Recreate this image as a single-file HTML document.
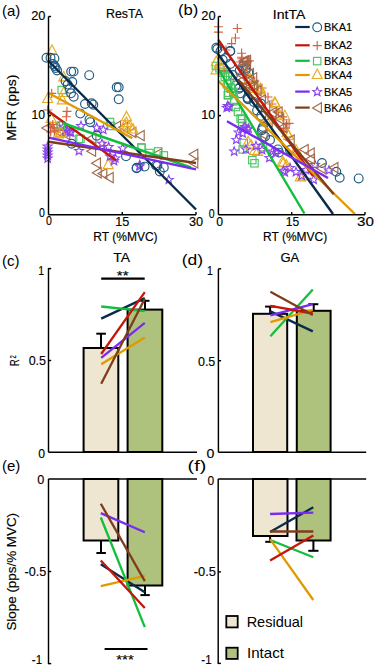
<!DOCTYPE html>
<html><head><meta charset="utf-8"><style>
html,body{margin:0;padding:0;background:#fff;}
body{width:375px;height:670px;overflow:hidden;}
svg{display:block;}
</style></head><body>
<svg width="375" height="670" viewBox="0 0 375 670" font-family="Liberation Sans, sans-serif">
<rect width="375" height="670" fill="#fff"/>
<g>
<path d="M41.8 128.1L50.6 123.0L50.6 133.2Z" stroke="#A2684A" stroke-width="1.15" fill="none"/>
<path d="M54.6 132.4L63.4 127.3L63.4 137.5Z" stroke="#A2684A" stroke-width="1.15" fill="none"/>
<path d="M61.0 134.5L69.8 129.4L69.8 139.6Z" stroke="#A2684A" stroke-width="1.15" fill="none"/>
<path d="M50.4 127.0L59.2 121.9L59.2 132.1Z" stroke="#A2684A" stroke-width="1.15" fill="none"/>
<path d="M135.4 135.6L144.2 130.5L144.2 140.7Z" stroke="#A2684A" stroke-width="1.15" fill="none"/>
<path d="M111.8 126.0L120.6 120.9L120.6 131.1Z" stroke="#A2684A" stroke-width="1.15" fill="none"/>
<path d="M118.7 127.3L127.5 122.2L127.5 132.4Z" stroke="#A2684A" stroke-width="1.15" fill="none"/>
<path d="M127.1 132.4L135.9 127.3L135.9 137.5Z" stroke="#A2684A" stroke-width="1.15" fill="none"/>
<path d="M86.8 151.2L95.6 146.1L95.6 156.3Z" stroke="#A2684A" stroke-width="1.15" fill="none"/>
<path d="M91.6 163.2L100.4 158.1L100.4 168.3Z" stroke="#A2684A" stroke-width="1.15" fill="none"/>
<path d="M92.4 172.8L101.2 167.7L101.2 177.9Z" stroke="#A2684A" stroke-width="1.15" fill="none"/>
<path d="M98.0 173.6L106.8 168.5L106.8 178.7Z" stroke="#A2684A" stroke-width="1.15" fill="none"/>
<path d="M104.4 177.6L113.2 172.5L113.2 182.7Z" stroke="#A2684A" stroke-width="1.15" fill="none"/>
<path d="M189.0 154.3L197.8 149.2L197.8 159.4Z" stroke="#A2684A" stroke-width="1.15" fill="none"/>
<path d="M189.0 163.0L197.8 157.9L197.8 168.1Z" stroke="#A2684A" stroke-width="1.15" fill="none"/>
<path d="M152.8 153.8L161.6 148.7L161.6 158.9Z" stroke="#A2684A" stroke-width="1.15" fill="none"/>
<path d="M87.1 138.3L95.9 133.2L95.9 143.4Z" stroke="#A2684A" stroke-width="1.15" fill="none"/>
<rect x="58.0" y="86.3" width="7.4" height="7.4" stroke="#4CC465" stroke-width="1.15" fill="none"/>
<rect x="76.8" y="135.1" width="7.4" height="7.4" stroke="#4CC465" stroke-width="1.15" fill="none"/>
<rect x="106.3" y="118.3" width="7.4" height="7.4" stroke="#4CC465" stroke-width="1.15" fill="none"/>
<rect x="107.3" y="122.3" width="7.4" height="7.4" stroke="#4CC465" stroke-width="1.15" fill="none"/>
<rect x="137.7" y="143.7" width="7.4" height="7.4" stroke="#4CC465" stroke-width="1.15" fill="none"/>
<rect x="145.7" y="149.3" width="7.4" height="7.4" stroke="#4CC465" stroke-width="1.15" fill="none"/>
<rect x="154.5" y="147.7" width="7.4" height="7.4" stroke="#4CC465" stroke-width="1.15" fill="none"/>
<rect x="160.1" y="151.7" width="7.4" height="7.4" stroke="#4CC465" stroke-width="1.15" fill="none"/>
<rect x="75.3" y="135.3" width="7.4" height="7.4" stroke="#4CC465" stroke-width="1.15" fill="none"/>
<rect x="137.8" y="144.2" width="7.4" height="7.4" stroke="#4CC465" stroke-width="1.15" fill="none"/>
<path d="M47.2 93.3h9M51.7 88.7v9.2" stroke="#D66040" stroke-width="1.15" fill="none"/>
<path d="M62.5 111.3h9M67.0 106.7v9.2" stroke="#D66040" stroke-width="1.15" fill="none"/>
<path d="M61.8 116.7h9M66.3 112.1v9.2" stroke="#D66040" stroke-width="1.15" fill="none"/>
<path d="M46.2 126.0h9M50.7 121.4v9.2" stroke="#D66040" stroke-width="1.15" fill="none"/>
<path d="M52.6 128.1h9M57.1 123.5v9.2" stroke="#D66040" stroke-width="1.15" fill="none"/>
<path d="M59.0 130.3h9M63.5 125.7v9.2" stroke="#D66040" stroke-width="1.15" fill="none"/>
<path d="M48.5 127.7h9M53.0 123.1v9.2" stroke="#D66040" stroke-width="1.15" fill="none"/>
<path d="M99.5 145.2h9M104.0 140.6v9.2" stroke="#D66040" stroke-width="1.15" fill="none"/>
<path d="M43.2 110.0h9M47.7 105.4v9.2" stroke="#D66040" stroke-width="1.15" fill="none"/>
<path d="M52.0 44.9L57.0 54.3L47.0 54.3Z" stroke="#E8AC25" stroke-width="1.15" fill="none" stroke-linejoin="miter"/>
<path d="M63.7 71.4L68.7 80.8L58.7 80.8Z" stroke="#E8AC25" stroke-width="1.15" fill="none" stroke-linejoin="miter"/>
<path d="M47.7 93.1L52.7 102.5L42.7 102.5Z" stroke="#E8AC25" stroke-width="1.15" fill="none" stroke-linejoin="miter"/>
<path d="M63.7 87.1L68.7 96.5L58.7 96.5Z" stroke="#E8AC25" stroke-width="1.15" fill="none" stroke-linejoin="miter"/>
<path d="M62.3 94.4L67.3 103.8L57.3 103.8Z" stroke="#E8AC25" stroke-width="1.15" fill="none" stroke-linejoin="miter"/>
<path d="M126.5 111.3L131.5 120.7L121.5 120.7Z" stroke="#E8AC25" stroke-width="1.15" fill="none" stroke-linejoin="miter"/>
<path d="M126.5 117.2L131.5 126.6L121.5 126.6Z" stroke="#E8AC25" stroke-width="1.15" fill="none" stroke-linejoin="miter"/>
<path d="M132.9 123.6L137.9 133.0L127.9 133.0Z" stroke="#E8AC25" stroke-width="1.15" fill="none" stroke-linejoin="miter"/>
<path d="M126.0 122.5L131.0 131.9L121.0 131.9Z" stroke="#E8AC25" stroke-width="1.15" fill="none" stroke-linejoin="miter"/>
<path d="M124.7 119.7L129.7 129.1L119.7 129.1Z" stroke="#E8AC25" stroke-width="1.15" fill="none" stroke-linejoin="miter"/>
<path d="M130.0 120.4L135.0 129.8L125.0 129.8Z" stroke="#E8AC25" stroke-width="1.15" fill="none" stroke-linejoin="miter"/>
<path d="M60.3 127.4L65.3 136.8L55.3 136.8Z" stroke="#E8AC25" stroke-width="1.15" fill="none" stroke-linejoin="miter"/>
<path d="M108.2 159.2L113.2 168.6L103.2 168.6Z" stroke="#E8AC25" stroke-width="1.15" fill="none" stroke-linejoin="miter"/>
<polygon points="47.7,141.9 48.9,144.9 52.1,145.1 49.6,147.1 50.4,150.2 47.7,148.5 45.0,150.2 45.8,147.1 43.3,145.1 46.5,144.9" stroke="#8A45EE" stroke-width="1.15" fill="none"/>
<polygon points="47.7,144.9 48.9,147.9 52.1,148.1 49.6,150.1 50.4,153.2 47.7,151.5 45.0,153.2 45.8,150.1 43.3,148.1 46.5,147.9" stroke="#8A45EE" stroke-width="1.15" fill="none"/>
<polygon points="47.7,147.9 48.9,150.9 52.1,151.1 49.6,153.1 50.4,156.2 47.7,154.5 45.0,156.2 45.8,153.1 43.3,151.1 46.5,150.9" stroke="#8A45EE" stroke-width="1.15" fill="none"/>
<polygon points="47.7,150.9 48.9,153.9 52.1,154.1 49.6,156.1 50.4,159.2 47.7,157.5 45.0,159.2 45.8,156.1 43.3,154.1 46.5,153.9" stroke="#8A45EE" stroke-width="1.15" fill="none"/>
<polygon points="47.7,153.9 48.9,156.9 52.1,157.1 49.6,159.1 50.4,162.2 47.7,160.5 45.0,162.2 45.8,159.1 43.3,157.1 46.5,156.9" stroke="#8A45EE" stroke-width="1.15" fill="none"/>
<polygon points="65.6,125.7 66.8,128.7 70.0,128.9 67.5,130.9 68.3,134.0 65.6,132.3 62.9,134.0 63.7,130.9 61.2,128.9 64.4,128.7" stroke="#8A45EE" stroke-width="1.15" fill="none"/>
<polygon points="69.9,127.8 71.1,130.8 74.3,131.0 71.8,133.0 72.6,136.1 69.9,134.4 67.2,136.1 68.0,133.0 65.5,131.0 68.7,130.8" stroke="#8A45EE" stroke-width="1.15" fill="none"/>
<polygon points="67.7,127.1 68.9,130.1 72.1,130.3 69.6,132.3 70.4,135.4 67.7,133.7 65.0,135.4 65.8,132.3 63.3,130.3 66.5,130.1" stroke="#8A45EE" stroke-width="1.15" fill="none"/>
<polygon points="71.0,127.7 72.2,130.7 75.4,130.9 72.9,132.9 73.7,136.0 71.0,134.3 68.3,136.0 69.1,132.9 66.6,130.9 69.8,130.7" stroke="#8A45EE" stroke-width="1.15" fill="none"/>
<polygon points="79.0,146.4 80.2,149.4 83.4,149.6 80.9,151.6 81.7,154.7 79.0,153.0 76.3,154.7 77.1,151.6 74.6,149.6 77.8,149.4" stroke="#8A45EE" stroke-width="1.15" fill="none"/>
<polygon points="96.7,123.1 97.9,126.1 101.1,126.3 98.6,128.3 99.4,131.4 96.7,129.7 94.0,131.4 94.8,128.3 92.3,126.3 95.5,126.1" stroke="#8A45EE" stroke-width="1.15" fill="none"/>
<polygon points="103.3,125.1 104.5,128.1 107.7,128.3 105.2,130.3 106.0,133.4 103.3,131.7 100.6,133.4 101.4,130.3 98.9,128.3 102.1,128.1" stroke="#8A45EE" stroke-width="1.15" fill="none"/>
<polygon points="102.0,139.1 103.2,142.1 106.4,142.3 103.9,144.3 104.7,147.4 102.0,145.7 99.3,147.4 100.1,144.3 97.6,142.3 100.8,142.1" stroke="#8A45EE" stroke-width="1.15" fill="none"/>
<polygon points="108.7,142.4 109.9,145.4 113.1,145.6 110.6,147.6 111.4,150.7 108.7,149.0 106.0,150.7 106.8,147.6 104.3,145.6 107.5,145.4" stroke="#8A45EE" stroke-width="1.15" fill="none"/>
<polygon points="122.7,143.7 123.9,146.7 127.1,146.9 124.6,148.9 125.4,152.0 122.7,150.3 120.0,152.0 120.8,148.9 118.3,146.9 121.5,146.7" stroke="#8A45EE" stroke-width="1.15" fill="none"/>
<polygon points="110.0,151.7 111.2,154.7 114.4,154.9 111.9,156.9 112.7,160.0 110.0,158.3 107.3,160.0 108.1,156.9 105.6,154.9 108.8,154.7" stroke="#8A45EE" stroke-width="1.15" fill="none"/>
<polygon points="115.3,153.7 116.5,156.7 119.7,156.9 117.2,158.9 118.0,162.0 115.3,160.3 112.6,162.0 113.4,158.9 110.9,156.9 114.1,156.7" stroke="#8A45EE" stroke-width="1.15" fill="none"/>
<polygon points="114.0,156.4 115.2,159.4 118.4,159.6 115.9,161.6 116.7,164.7 114.0,163.0 111.3,164.7 112.1,161.6 109.6,159.6 112.8,159.4" stroke="#8A45EE" stroke-width="1.15" fill="none"/>
<polygon points="81.0,121.4 82.2,124.4 85.4,124.6 82.9,126.6 83.7,129.7 81.0,128.0 78.3,129.7 79.1,126.6 76.6,124.6 79.8,124.4" stroke="#8A45EE" stroke-width="1.15" fill="none"/>
<polygon points="63.7,122.1 64.9,125.1 68.1,125.3 65.6,127.3 66.4,130.4 63.7,128.7 61.0,130.4 61.8,127.3 59.3,125.3 62.5,125.1" stroke="#8A45EE" stroke-width="1.15" fill="none"/>
<polygon points="139.8,160.4 141.0,163.4 144.2,163.6 141.7,165.6 142.5,168.7 139.8,167.0 137.1,168.7 137.9,165.6 135.4,163.6 138.6,163.4" stroke="#8A45EE" stroke-width="1.15" fill="none"/>
<polygon points="168.8,175.2 170.0,178.2 173.2,178.4 170.7,180.4 171.5,183.5 168.8,181.8 166.1,183.5 166.9,180.4 164.4,178.4 167.6,178.2" stroke="#8A45EE" stroke-width="1.15" fill="none"/>
<polygon points="139.6,161.8 140.8,164.8 144.0,165.0 141.5,167.0 142.3,170.1 139.6,168.4 136.9,170.1 137.7,167.0 135.2,165.0 138.4,164.8" stroke="#8A45EE" stroke-width="1.15" fill="none"/>
<circle cx="46.5" cy="57.7" r="4.4" stroke="#1F5A80" stroke-width="1.15" fill="none"/>
<circle cx="50.5" cy="57.7" r="4.4" stroke="#1F5A80" stroke-width="1.15" fill="none"/>
<circle cx="54.4" cy="58.4" r="4.4" stroke="#1F5A80" stroke-width="1.15" fill="none"/>
<circle cx="52.8" cy="64.1" r="4.4" stroke="#1F5A80" stroke-width="1.15" fill="none"/>
<circle cx="54.6" cy="66.0" r="4.4" stroke="#1F5A80" stroke-width="1.15" fill="none"/>
<circle cx="55.6" cy="68.0" r="4.4" stroke="#1F5A80" stroke-width="1.15" fill="none"/>
<circle cx="57.1" cy="70.5" r="4.4" stroke="#1F5A80" stroke-width="1.15" fill="none"/>
<circle cx="71.2" cy="71.6" r="4.4" stroke="#1F5A80" stroke-width="1.15" fill="none"/>
<circle cx="73.6" cy="71.6" r="4.4" stroke="#1F5A80" stroke-width="1.15" fill="none"/>
<circle cx="89.2" cy="75.2" r="4.4" stroke="#1F5A80" stroke-width="1.15" fill="none"/>
<circle cx="72.3" cy="82.0" r="4.4" stroke="#1F5A80" stroke-width="1.15" fill="none"/>
<circle cx="65.6" cy="81.2" r="4.4" stroke="#1F5A80" stroke-width="1.15" fill="none"/>
<circle cx="67.7" cy="84.6" r="4.4" stroke="#1F5A80" stroke-width="1.15" fill="none"/>
<circle cx="69.9" cy="88.8" r="4.4" stroke="#1F5A80" stroke-width="1.15" fill="none"/>
<circle cx="71.0" cy="93.3" r="4.4" stroke="#1F5A80" stroke-width="1.15" fill="none"/>
<circle cx="73.7" cy="96.7" r="4.4" stroke="#1F5A80" stroke-width="1.15" fill="none"/>
<circle cx="85.0" cy="104.0" r="4.4" stroke="#1F5A80" stroke-width="1.15" fill="none"/>
<circle cx="91.7" cy="103.3" r="4.4" stroke="#1F5A80" stroke-width="1.15" fill="none"/>
<circle cx="93.3" cy="104.7" r="4.4" stroke="#1F5A80" stroke-width="1.15" fill="none"/>
<circle cx="80.3" cy="113.6" r="4.4" stroke="#1F5A80" stroke-width="1.15" fill="none"/>
<circle cx="89.5" cy="119.6" r="4.4" stroke="#1F5A80" stroke-width="1.15" fill="none"/>
<circle cx="90.3" cy="122.2" r="4.4" stroke="#1F5A80" stroke-width="1.15" fill="none"/>
<circle cx="116.7" cy="87.3" r="4.4" stroke="#1F5A80" stroke-width="1.15" fill="none"/>
<circle cx="118.7" cy="87.3" r="4.4" stroke="#1F5A80" stroke-width="1.15" fill="none"/>
<circle cx="118.7" cy="99.3" r="4.4" stroke="#1F5A80" stroke-width="1.15" fill="none"/>
<circle cx="96.7" cy="135.7" r="4.4" stroke="#1F5A80" stroke-width="1.15" fill="none"/>
<circle cx="71.7" cy="143.7" r="4.4" stroke="#1F5A80" stroke-width="1.15" fill="none"/>
<circle cx="126.0" cy="156.3" r="4.4" stroke="#1F5A80" stroke-width="1.15" fill="none"/>
<circle cx="136.7" cy="167.7" r="4.4" stroke="#1F5A80" stroke-width="1.15" fill="none"/>
<circle cx="136.6" cy="168.2" r="4.4" stroke="#1F5A80" stroke-width="1.15" fill="none"/>
<circle cx="144.6" cy="166.6" r="4.4" stroke="#1F5A80" stroke-width="1.15" fill="none"/>
<circle cx="157.4" cy="165.8" r="4.4" stroke="#1F5A80" stroke-width="1.15" fill="none"/>
<circle cx="163.8" cy="167.4" r="4.4" stroke="#1F5A80" stroke-width="1.15" fill="none"/>
<circle cx="159.8" cy="171.4" r="4.4" stroke="#1F5A80" stroke-width="1.15" fill="none"/>
<circle cx="156.0" cy="165.4" r="4.4" stroke="#1F5A80" stroke-width="1.15" fill="none"/>
<path d="M51.2 112.9L56.2 122.3L46.2 122.3Z" stroke="#E8AC25" stroke-width="1.15" fill="none" stroke-linejoin="miter"/>
<path d="M61.3 127.5L66.3 136.9L56.3 136.9Z" stroke="#E8AC25" stroke-width="1.15" fill="none" stroke-linejoin="miter"/>
<path d="M58.1 128.5L63.1 137.9L53.1 137.9Z" stroke="#E8AC25" stroke-width="1.15" fill="none" stroke-linejoin="miter"/>
<path d="M48.3 124.5h9M52.8 119.9v9.2" stroke="#D66040" stroke-width="1.15" fill="none"/>
<path d="M49.9 130.9h9M54.4 126.3v9.2" stroke="#D66040" stroke-width="1.15" fill="none"/>
<path d="M46.2 132.0h9M50.7 127.4v9.2" stroke="#D66040" stroke-width="1.15" fill="none"/>
<rect x="57.1" y="121.9" width="7.4" height="7.4" stroke="#4CC465" stroke-width="1.15" fill="none"/>
</g>
<line x1="48.50" y1="61.00" x2="196.00" y2="209.50" stroke="#0A2A4C" stroke-width="2.4" />
<line x1="48.50" y1="111.30" x2="116.00" y2="160.30" stroke="#C4160A" stroke-width="2.4" />
<line x1="62.50" y1="123.00" x2="191.00" y2="167.50" stroke="#12BE3A" stroke-width="2.4" />
<line x1="48.50" y1="93.00" x2="132.40" y2="138.30" stroke="#E09A00" stroke-width="2.4" />
<line x1="48.50" y1="141.70" x2="196.00" y2="163.00" stroke="#7E3E1C" stroke-width="2.4" />
<line x1="48.50" y1="137.70" x2="196.00" y2="169.40" stroke="#7A2BF0" stroke-width="2.4" />
<line x1="48.50" y1="16.50" x2="48.50" y2="214.70" stroke="#000" stroke-width="1.45" />
<line x1="48.50" y1="214.70" x2="196.00" y2="214.70" stroke="#000" stroke-width="1.45" />
<line x1="48.50" y1="16.50" x2="51.10" y2="16.50" stroke="#000" stroke-width="1.45" />
<line x1="48.50" y1="115.60" x2="51.10" y2="115.60" stroke="#000" stroke-width="1.45" />
<line x1="122.25" y1="214.70" x2="122.25" y2="212.10" stroke="#000" stroke-width="1.45" />
<line x1="196.00" y1="214.70" x2="196.00" y2="212.10" stroke="#000" stroke-width="1.45" />
<g>
<path d="M213.9 26.7h9M218.4 22.1v9.2" stroke="#D66040" stroke-width="1.15" fill="none"/>
<path d="M213.9 32.1h9M218.4 27.5v9.2" stroke="#D66040" stroke-width="1.15" fill="none"/>
<path d="M232.8 28.5h9M237.3 23.9v9.2" stroke="#D66040" stroke-width="1.15" fill="none"/>
<path d="M230.9 38.0h9M235.4 33.4v9.2" stroke="#D66040" stroke-width="1.15" fill="none"/>
<path d="M227.1 43.6h9M231.6 39.0v9.2" stroke="#D66040" stroke-width="1.15" fill="none"/>
<path d="M237.1 53.2h9M241.6 48.6v9.2" stroke="#D66040" stroke-width="1.15" fill="none"/>
<path d="M237.1 57.2h9M241.6 52.6v9.2" stroke="#D66040" stroke-width="1.15" fill="none"/>
<path d="M244.8 60.9h9M249.3 56.3v9.2" stroke="#D66040" stroke-width="1.15" fill="none"/>
<path d="M220.3 70.5h9M224.8 65.9v9.2" stroke="#D66040" stroke-width="1.15" fill="none"/>
<path d="M250.2 81.1h9M254.7 76.5v9.2" stroke="#D66040" stroke-width="1.15" fill="none"/>
<path d="M237.4 58.7h9M241.9 54.1v9.2" stroke="#D66040" stroke-width="1.15" fill="none"/>
<path d="M243.0 61.4h9M247.5 56.8v9.2" stroke="#D66040" stroke-width="1.15" fill="none"/>
<path d="M273.9 112.6h9M278.4 108.0v9.2" stroke="#D66040" stroke-width="1.15" fill="none"/>
<path d="M284.6 123.3h9M289.1 118.7v9.2" stroke="#D66040" stroke-width="1.15" fill="none"/>
<path d="M278.2 116.9h9M282.7 112.3v9.2" stroke="#D66040" stroke-width="1.15" fill="none"/>
<path d="M279.2 128.6h9M283.7 124.0v9.2" stroke="#D66040" stroke-width="1.15" fill="none"/>
<path d="M272.4 111.0h9M276.9 106.4v9.2" stroke="#D66040" stroke-width="1.15" fill="none"/>
<path d="M282.0 123.8h9M286.5 119.2v9.2" stroke="#D66040" stroke-width="1.15" fill="none"/>
<path d="M280.9 128.1h9M285.4 123.5v9.2" stroke="#D66040" stroke-width="1.15" fill="none"/>
<path d="M235.8 62.0h9M240.3 57.4v9.2" stroke="#D66040" stroke-width="1.15" fill="none"/>
<path d="M242.5 62.7h9M247.0 58.1v9.2" stroke="#D66040" stroke-width="1.15" fill="none"/>
<path d="M219.8 71.3h9M224.3 66.7v9.2" stroke="#D66040" stroke-width="1.15" fill="none"/>
<path d="M221.5 50.0h9M226.0 45.4v9.2" stroke="#D66040" stroke-width="1.15" fill="none"/>
<path d="M257.5 88.0h9M262.0 83.4v9.2" stroke="#D66040" stroke-width="1.15" fill="none"/>
<path d="M263.5 97.0h9M268.0 92.4v9.2" stroke="#D66040" stroke-width="1.15" fill="none"/>
<path d="M267.5 104.0h9M272.0 99.4v9.2" stroke="#D66040" stroke-width="1.15" fill="none"/>
<circle cx="217.3" cy="49.1" r="4.4" stroke="#1F5A80" stroke-width="1.15" fill="none"/>
<circle cx="220.5" cy="51.3" r="4.4" stroke="#1F5A80" stroke-width="1.15" fill="none"/>
<circle cx="230.1" cy="51.3" r="4.4" stroke="#1F5A80" stroke-width="1.15" fill="none"/>
<circle cx="222.7" cy="59.8" r="4.4" stroke="#1F5A80" stroke-width="1.15" fill="none"/>
<circle cx="246.1" cy="68.3" r="4.4" stroke="#1F5A80" stroke-width="1.15" fill="none"/>
<circle cx="248.3" cy="72.6" r="4.4" stroke="#1F5A80" stroke-width="1.15" fill="none"/>
<circle cx="239.7" cy="70.5" r="4.4" stroke="#1F5A80" stroke-width="1.15" fill="none"/>
<circle cx="235.5" cy="85.4" r="4.4" stroke="#1F5A80" stroke-width="1.15" fill="none"/>
<circle cx="239.7" cy="87.5" r="4.4" stroke="#1F5A80" stroke-width="1.15" fill="none"/>
<circle cx="243.2" cy="65.7" r="4.4" stroke="#1F5A80" stroke-width="1.15" fill="none"/>
<circle cx="248.5" cy="79.5" r="4.4" stroke="#1F5A80" stroke-width="1.15" fill="none"/>
<circle cx="247.5" cy="97.7" r="4.4" stroke="#1F5A80" stroke-width="1.15" fill="none"/>
<circle cx="253.9" cy="101.9" r="4.4" stroke="#1F5A80" stroke-width="1.15" fill="none"/>
<circle cx="257.1" cy="110.5" r="4.4" stroke="#1F5A80" stroke-width="1.15" fill="none"/>
<circle cx="261.3" cy="115.8" r="4.4" stroke="#1F5A80" stroke-width="1.15" fill="none"/>
<circle cx="262.4" cy="128.6" r="4.4" stroke="#1F5A80" stroke-width="1.15" fill="none"/>
<circle cx="248.1" cy="99.3" r="4.4" stroke="#1F5A80" stroke-width="1.15" fill="none"/>
<circle cx="260.9" cy="103.5" r="4.4" stroke="#1F5A80" stroke-width="1.15" fill="none"/>
<circle cx="263.0" cy="127.0" r="4.4" stroke="#1F5A80" stroke-width="1.15" fill="none"/>
<circle cx="261.9" cy="130.2" r="4.4" stroke="#1F5A80" stroke-width="1.15" fill="none"/>
<circle cx="265.1" cy="136.6" r="4.4" stroke="#1F5A80" stroke-width="1.15" fill="none"/>
<circle cx="277.9" cy="149.4" r="4.4" stroke="#1F5A80" stroke-width="1.15" fill="none"/>
<circle cx="279.0" cy="152.6" r="4.4" stroke="#1F5A80" stroke-width="1.15" fill="none"/>
<circle cx="322.0" cy="163.0" r="4.4" stroke="#1F5A80" stroke-width="1.15" fill="none"/>
<circle cx="336.3" cy="171.7" r="4.4" stroke="#1F5A80" stroke-width="1.15" fill="none"/>
<circle cx="339.7" cy="177.7" r="4.4" stroke="#1F5A80" stroke-width="1.15" fill="none"/>
<circle cx="358.7" cy="178.4" r="4.4" stroke="#1F5A80" stroke-width="1.15" fill="none"/>
<circle cx="230.3" cy="64.0" r="4.4" stroke="#1F5A80" stroke-width="1.15" fill="none"/>
<circle cx="245.7" cy="70.0" r="4.4" stroke="#1F5A80" stroke-width="1.15" fill="none"/>
<circle cx="239.0" cy="88.7" r="4.4" stroke="#1F5A80" stroke-width="1.15" fill="none"/>
<circle cx="240.3" cy="93.3" r="4.4" stroke="#1F5A80" stroke-width="1.15" fill="none"/>
<circle cx="247.7" cy="98.7" r="4.4" stroke="#1F5A80" stroke-width="1.15" fill="none"/>
<circle cx="216.3" cy="47.7" r="4.4" stroke="#1F5A80" stroke-width="1.15" fill="none"/>
<circle cx="230.3" cy="51.0" r="4.4" stroke="#1F5A80" stroke-width="1.15" fill="none"/>
<circle cx="226.0" cy="58.0" r="4.4" stroke="#1F5A80" stroke-width="1.15" fill="none"/>
<circle cx="233.0" cy="75.0" r="4.4" stroke="#1F5A80" stroke-width="1.15" fill="none"/>
<circle cx="270.0" cy="140.0" r="4.4" stroke="#1F5A80" stroke-width="1.15" fill="none"/>
<circle cx="290.0" cy="150.0" r="4.4" stroke="#1F5A80" stroke-width="1.15" fill="none"/>
<rect x="215.8" y="64.6" width="7.4" height="7.4" stroke="#4CC465" stroke-width="1.15" fill="none"/>
<rect x="219.0" y="68.9" width="7.4" height="7.4" stroke="#4CC465" stroke-width="1.15" fill="none"/>
<rect x="221.1" y="73.2" width="7.4" height="7.4" stroke="#4CC465" stroke-width="1.15" fill="none"/>
<rect x="226.4" y="76.4" width="7.4" height="7.4" stroke="#4CC465" stroke-width="1.15" fill="none"/>
<rect x="223.2" y="80.6" width="7.4" height="7.4" stroke="#4CC465" stroke-width="1.15" fill="none"/>
<rect x="227.5" y="84.9" width="7.4" height="7.4" stroke="#4CC465" stroke-width="1.15" fill="none"/>
<rect x="229.6" y="88.1" width="7.4" height="7.4" stroke="#4CC465" stroke-width="1.15" fill="none"/>
<rect x="224.0" y="72.3" width="7.4" height="7.4" stroke="#4CC465" stroke-width="1.15" fill="none"/>
<rect x="224.6" y="79.6" width="7.4" height="7.4" stroke="#4CC465" stroke-width="1.15" fill="none"/>
<rect x="227.3" y="84.3" width="7.4" height="7.4" stroke="#4CC465" stroke-width="1.15" fill="none"/>
<rect x="224.6" y="89.0" width="7.4" height="7.4" stroke="#4CC465" stroke-width="1.15" fill="none"/>
<rect x="224.6" y="91.6" width="7.4" height="7.4" stroke="#4CC465" stroke-width="1.15" fill="none"/>
<rect x="230.0" y="89.6" width="7.4" height="7.4" stroke="#4CC465" stroke-width="1.15" fill="none"/>
<rect x="230.6" y="97.6" width="7.4" height="7.4" stroke="#4CC465" stroke-width="1.15" fill="none"/>
<rect x="236.9" y="114.8" width="7.4" height="7.4" stroke="#4CC465" stroke-width="1.15" fill="none"/>
<rect x="240.1" y="139.3" width="7.4" height="7.4" stroke="#4CC465" stroke-width="1.15" fill="none"/>
<rect x="239.0" y="145.7" width="7.4" height="7.4" stroke="#4CC465" stroke-width="1.15" fill="none"/>
<rect x="248.6" y="156.4" width="7.4" height="7.4" stroke="#4CC465" stroke-width="1.15" fill="none"/>
<rect x="250.8" y="159.6" width="7.4" height="7.4" stroke="#4CC465" stroke-width="1.15" fill="none"/>
<rect x="230.5" y="96.6" width="7.4" height="7.4" stroke="#4CC465" stroke-width="1.15" fill="none"/>
<rect x="224.1" y="91.3" width="7.4" height="7.4" stroke="#4CC465" stroke-width="1.15" fill="none"/>
<rect x="259.3" y="143.6" width="7.4" height="7.4" stroke="#4CC465" stroke-width="1.15" fill="none"/>
<rect x="238.4" y="115.3" width="7.4" height="7.4" stroke="#4CC465" stroke-width="1.15" fill="none"/>
<rect x="238.4" y="119.6" width="7.4" height="7.4" stroke="#4CC465" stroke-width="1.15" fill="none"/>
<rect x="212.3" y="62.3" width="7.4" height="7.4" stroke="#4CC465" stroke-width="1.15" fill="none"/>
<rect x="232.3" y="103.3" width="7.4" height="7.4" stroke="#4CC465" stroke-width="1.15" fill="none"/>
<rect x="234.3" y="108.3" width="7.4" height="7.4" stroke="#4CC465" stroke-width="1.15" fill="none"/>
<path d="M216.3 56.3L221.3 65.7L211.3 65.7Z" stroke="#E8AC25" stroke-width="1.15" fill="none" stroke-linejoin="miter"/>
<path d="M219.5 58.5L224.5 67.9L214.5 67.9Z" stroke="#E8AC25" stroke-width="1.15" fill="none" stroke-linejoin="miter"/>
<path d="M250.4 73.4L255.4 82.8L245.4 82.8Z" stroke="#E8AC25" stroke-width="1.15" fill="none" stroke-linejoin="miter"/>
<path d="M260.0 84.1L265.0 93.5L255.0 93.5Z" stroke="#E8AC25" stroke-width="1.15" fill="none" stroke-linejoin="miter"/>
<path d="M254.7 83.0L259.7 92.4L249.7 92.4Z" stroke="#E8AC25" stroke-width="1.15" fill="none" stroke-linejoin="miter"/>
<path d="M248.1 136.3L253.1 145.7L243.1 145.7Z" stroke="#E8AC25" stroke-width="1.15" fill="none" stroke-linejoin="miter"/>
<path d="M254.5 144.9L259.5 154.3L249.5 154.3Z" stroke="#E8AC25" stroke-width="1.15" fill="none" stroke-linejoin="miter"/>
<path d="M257.7 145.9L262.7 155.3L252.7 155.3Z" stroke="#E8AC25" stroke-width="1.15" fill="none" stroke-linejoin="miter"/>
<path d="M274.7 96.9L279.7 106.3L269.7 106.3Z" stroke="#E8AC25" stroke-width="1.15" fill="none" stroke-linejoin="miter"/>
<path d="M279.0 109.7L284.0 119.1L274.0 119.1Z" stroke="#E8AC25" stroke-width="1.15" fill="none" stroke-linejoin="miter"/>
<path d="M288.6 129.9L293.6 139.3L283.6 139.3Z" stroke="#E8AC25" stroke-width="1.15" fill="none" stroke-linejoin="miter"/>
<path d="M282.2 156.6L287.2 166.0L277.2 166.0Z" stroke="#E8AC25" stroke-width="1.15" fill="none" stroke-linejoin="miter"/>
<path d="M286.5 159.8L291.5 169.2L281.5 169.2Z" stroke="#E8AC25" stroke-width="1.15" fill="none" stroke-linejoin="miter"/>
<path d="M259.2 84.6L264.2 94.0L254.2 94.0Z" stroke="#E8AC25" stroke-width="1.15" fill="none" stroke-linejoin="miter"/>
<path d="M275.2 97.4L280.2 106.8L270.2 106.8Z" stroke="#E8AC25" stroke-width="1.15" fill="none" stroke-linejoin="miter"/>
<path d="M284.8 110.2L289.8 119.6L279.8 119.6Z" stroke="#E8AC25" stroke-width="1.15" fill="none" stroke-linejoin="miter"/>
<path d="M286.9 127.3L291.9 136.7L281.9 136.7Z" stroke="#E8AC25" stroke-width="1.15" fill="none" stroke-linejoin="miter"/>
<path d="M283.6 157.2L288.6 166.6L278.6 166.6Z" stroke="#E8AC25" stroke-width="1.15" fill="none" stroke-linejoin="miter"/>
<path d="M302.8 170.4L307.8 179.8L297.8 179.8Z" stroke="#E8AC25" stroke-width="1.15" fill="none" stroke-linejoin="miter"/>
<path d="M300.3 171.4L305.3 180.8L295.3 180.8Z" stroke="#E8AC25" stroke-width="1.15" fill="none" stroke-linejoin="miter"/>
<path d="M249.0 73.7L254.0 83.1L244.0 83.1Z" stroke="#E8AC25" stroke-width="1.15" fill="none" stroke-linejoin="miter"/>
<path d="M260.3 83.1L265.3 92.5L255.3 92.5Z" stroke="#E8AC25" stroke-width="1.15" fill="none" stroke-linejoin="miter"/>
<path d="M216.0 64.4L221.0 73.8L211.0 73.8Z" stroke="#E8AC25" stroke-width="1.15" fill="none" stroke-linejoin="miter"/>
<path d="M251.0 139.4L256.0 148.8L246.0 148.8Z" stroke="#E8AC25" stroke-width="1.15" fill="none" stroke-linejoin="miter"/>
<path d="M266.0 114.4L271.0 123.8L261.0 123.8Z" stroke="#E8AC25" stroke-width="1.15" fill="none" stroke-linejoin="miter"/>
<path d="M296.0 144.4L301.0 153.8L291.0 153.8Z" stroke="#E8AC25" stroke-width="1.15" fill="none" stroke-linejoin="miter"/>
<polygon points="226.7,103.2 227.9,106.2 231.1,106.4 228.6,108.4 229.4,111.5 226.7,109.8 224.0,111.5 224.8,108.4 222.3,106.4 225.5,106.2" stroke="#8A45EE" stroke-width="1.15" fill="none"/>
<polygon points="228.9,102.1 230.1,105.1 233.3,105.3 230.8,107.3 231.6,110.4 228.9,108.7 226.2,110.4 227.0,107.3 224.5,105.3 227.7,105.1" stroke="#8A45EE" stroke-width="1.15" fill="none"/>
<polygon points="244.9,122.4 246.1,125.4 249.3,125.6 246.8,127.6 247.6,130.7 244.9,129.0 242.2,130.7 243.0,127.6 240.5,125.6 243.7,125.4" stroke="#8A45EE" stroke-width="1.15" fill="none"/>
<polygon points="247.0,124.5 248.2,127.5 251.4,127.7 248.9,129.7 249.7,132.8 247.0,131.1 244.3,132.8 245.1,129.7 242.6,127.7 245.8,127.5" stroke="#8A45EE" stroke-width="1.15" fill="none"/>
<polygon points="238.5,127.7 239.7,130.7 242.9,130.9 240.4,132.9 241.2,136.0 238.5,134.3 235.8,136.0 236.6,132.9 234.1,130.9 237.3,130.7" stroke="#8A45EE" stroke-width="1.15" fill="none"/>
<polygon points="242.7,128.8 243.9,131.8 247.1,132.0 244.6,134.0 245.4,137.1 242.7,135.4 240.0,137.1 240.8,134.0 238.3,132.0 241.5,131.8" stroke="#8A45EE" stroke-width="1.15" fill="none"/>
<polygon points="236.3,135.2 237.5,138.2 240.7,138.4 238.2,140.4 239.0,143.5 236.3,141.8 233.6,143.5 234.4,140.4 231.9,138.4 235.1,138.2" stroke="#8A45EE" stroke-width="1.15" fill="none"/>
<polygon points="234.2,146.9 235.4,149.9 238.6,150.1 236.1,152.1 236.9,155.2 234.2,153.5 231.5,155.2 232.3,152.1 229.8,150.1 233.0,149.9" stroke="#8A45EE" stroke-width="1.15" fill="none"/>
<polygon points="245.9,144.8 247.1,147.8 250.3,148.0 247.8,150.0 248.6,153.1 245.9,151.4 243.2,153.1 244.0,150.0 241.5,148.0 244.7,147.8" stroke="#8A45EE" stroke-width="1.15" fill="none"/>
<polygon points="272.6,146.9 273.8,149.9 277.0,150.1 274.5,152.1 275.3,155.2 272.6,153.5 269.9,155.2 270.7,152.1 268.2,150.1 271.4,149.9" stroke="#8A45EE" stroke-width="1.15" fill="none"/>
<polygon points="275.8,148.0 277.0,151.0 280.2,151.2 277.7,153.2 278.5,156.3 275.8,154.6 273.1,156.3 273.9,153.2 271.4,151.2 274.6,151.0" stroke="#8A45EE" stroke-width="1.15" fill="none"/>
<polygon points="269.4,153.3 270.6,156.3 273.8,156.5 271.3,158.5 272.1,161.6 269.4,159.9 266.7,161.6 267.5,158.5 265.0,156.5 268.2,156.3" stroke="#8A45EE" stroke-width="1.15" fill="none"/>
<polygon points="283.3,166.1 284.5,169.1 287.7,169.3 285.2,171.3 286.0,174.4 283.3,172.7 280.6,174.4 281.4,171.3 278.9,169.3 282.1,169.1" stroke="#8A45EE" stroke-width="1.15" fill="none"/>
<polygon points="243.2,124.0 244.4,127.0 247.6,127.2 245.1,129.2 245.9,132.3 243.2,130.6 240.5,132.3 241.3,129.2 238.8,127.2 242.0,127.0" stroke="#8A45EE" stroke-width="1.15" fill="none"/>
<polygon points="248.5,124.0 249.7,127.0 252.9,127.2 250.4,129.2 251.2,132.3 248.5,130.6 245.8,132.3 246.6,129.2 244.1,127.2 247.3,127.0" stroke="#8A45EE" stroke-width="1.15" fill="none"/>
<polygon points="227.7,101.4 228.9,104.4 232.1,104.6 229.6,106.6 230.4,109.7 227.7,108.0 225.0,109.7 225.8,106.6 223.3,104.6 226.5,104.4" stroke="#8A45EE" stroke-width="1.15" fill="none"/>
<polygon points="315.0,160.4 316.2,163.4 319.4,163.6 316.9,165.6 317.7,168.7 315.0,167.0 312.3,168.7 313.1,165.6 310.6,163.6 313.8,163.4" stroke="#8A45EE" stroke-width="1.15" fill="none"/>
<polygon points="329.0,165.7 330.2,168.7 333.4,168.9 330.9,170.9 331.7,174.0 329.0,172.3 326.3,174.0 327.1,170.9 324.6,168.9 327.8,168.7" stroke="#8A45EE" stroke-width="1.15" fill="none"/>
<polygon points="313.7,175.1 314.9,178.1 318.1,178.3 315.6,180.3 316.4,183.4 313.7,181.7 311.0,183.4 311.8,180.3 309.3,178.3 312.5,178.1" stroke="#8A45EE" stroke-width="1.15" fill="none"/>
<polygon points="301.7,171.1 302.9,174.1 306.1,174.3 303.6,176.3 304.4,179.4 301.7,177.7 299.0,179.4 299.8,176.3 297.3,174.3 300.5,174.1" stroke="#8A45EE" stroke-width="1.15" fill="none"/>
<polygon points="284.8,167.8 286.0,170.8 289.2,171.0 286.7,173.0 287.5,176.1 284.8,174.4 282.1,176.1 282.9,173.0 280.4,171.0 283.6,170.8" stroke="#8A45EE" stroke-width="1.15" fill="none"/>
<polygon points="290.0,163.4 291.2,166.4 294.4,166.6 291.9,168.6 292.7,171.7 290.0,170.0 287.3,171.7 288.1,168.6 285.6,166.6 288.8,166.4" stroke="#8A45EE" stroke-width="1.15" fill="none"/>
<polygon points="296.0,167.4 297.2,170.4 300.4,170.6 297.9,172.6 298.7,175.7 296.0,174.0 293.3,175.7 294.1,172.6 291.6,170.6 294.8,170.4" stroke="#8A45EE" stroke-width="1.15" fill="none"/>
<polygon points="306.0,165.4 307.2,168.4 310.4,168.6 307.9,170.6 308.7,173.7 306.0,172.0 303.3,173.7 304.1,170.6 301.6,168.6 304.8,168.4" stroke="#8A45EE" stroke-width="1.15" fill="none"/>
<polygon points="262.0,145.4 263.2,148.4 266.4,148.6 263.9,150.6 264.7,153.7 262.0,152.0 259.3,153.7 260.1,150.6 257.6,148.6 260.8,148.4" stroke="#8A45EE" stroke-width="1.15" fill="none"/>
<polygon points="256.0,141.4 257.2,144.4 260.4,144.6 257.9,146.6 258.7,149.7 256.0,148.0 253.3,149.7 254.1,146.6 251.6,144.6 254.8,144.4" stroke="#8A45EE" stroke-width="1.15" fill="none"/>
<path d="M239.4 60.9L248.2 55.8L248.2 66.0Z" stroke="#A2684A" stroke-width="1.15" fill="none"/>
<path d="M238.3 66.2L247.1 61.1L247.1 71.3Z" stroke="#A2684A" stroke-width="1.15" fill="none"/>
<path d="M241.5 65.1L250.3 60.0L250.3 70.2Z" stroke="#A2684A" stroke-width="1.15" fill="none"/>
<path d="M244.7 73.7L253.5 68.6L253.5 78.8Z" stroke="#A2684A" stroke-width="1.15" fill="none"/>
<path d="M247.9 77.9L256.7 72.8L256.7 83.0Z" stroke="#A2684A" stroke-width="1.15" fill="none"/>
<path d="M249.0 85.4L257.8 80.3L257.8 90.5Z" stroke="#A2684A" stroke-width="1.15" fill="none"/>
<path d="M252.2 90.7L261.0 85.6L261.0 95.8Z" stroke="#A2684A" stroke-width="1.15" fill="none"/>
<path d="M241.8 60.3L250.6 55.2L250.6 65.4Z" stroke="#A2684A" stroke-width="1.15" fill="none"/>
<path d="M248.2 88.1L257.0 83.0L257.0 93.2Z" stroke="#A2684A" stroke-width="1.15" fill="none"/>
<path d="M256.7 99.8L265.5 94.7L265.5 104.9Z" stroke="#A2684A" stroke-width="1.15" fill="none"/>
<path d="M261.0 106.2L269.8 101.1L269.8 111.3Z" stroke="#A2684A" stroke-width="1.15" fill="none"/>
<path d="M267.4 112.6L276.2 107.5L276.2 117.7Z" stroke="#A2684A" stroke-width="1.15" fill="none"/>
<path d="M274.9 119.0L283.7 113.9L283.7 124.1Z" stroke="#A2684A" stroke-width="1.15" fill="none"/>
<path d="M278.1 127.5L286.9 122.4L286.9 132.6Z" stroke="#A2684A" stroke-width="1.15" fill="none"/>
<path d="M236.4 74.7L245.2 69.6L245.2 79.8Z" stroke="#A2684A" stroke-width="1.15" fill="none"/>
<path d="M237.7 80.0L246.5 74.9L246.5 85.1Z" stroke="#A2684A" stroke-width="1.15" fill="none"/>
<path d="M240.4 86.0L249.2 80.9L249.2 91.1Z" stroke="#A2684A" stroke-width="1.15" fill="none"/>
<path d="M245.7 86.7L254.5 81.6L254.5 91.8Z" stroke="#A2684A" stroke-width="1.15" fill="none"/>
<path d="M305.7 159.0L314.5 153.9L314.5 164.1Z" stroke="#A2684A" stroke-width="1.15" fill="none"/>
<path d="M316.4 168.3L325.2 163.2L325.2 173.4Z" stroke="#A2684A" stroke-width="1.15" fill="none"/>
<path d="M329.1 167.7L337.9 162.6L337.9 172.8Z" stroke="#A2684A" stroke-width="1.15" fill="none"/>
<path d="M299.4 149.6L308.2 144.5L308.2 154.7Z" stroke="#A2684A" stroke-width="1.15" fill="none"/>
<path d="M305.4 153.2L314.2 148.1L314.2 158.3Z" stroke="#A2684A" stroke-width="1.15" fill="none"/>
<path d="M258.4 134.5L267.2 129.4L267.2 139.6Z" stroke="#A2684A" stroke-width="1.15" fill="none"/>
<path d="M273.3 112.1L282.1 107.0L282.1 117.2Z" stroke="#A2684A" stroke-width="1.15" fill="none"/>
<path d="M239.1 61.0L247.9 55.9L247.9 66.1Z" stroke="#A2684A" stroke-width="1.15" fill="none"/>
<path d="M263.4 122.0L272.2 116.9L272.2 127.1Z" stroke="#A2684A" stroke-width="1.15" fill="none"/>
<path d="M285.4 140.0L294.2 134.9L294.2 145.1Z" stroke="#A2684A" stroke-width="1.15" fill="none"/>
</g>
<line x1="218.40" y1="54.50" x2="333.00" y2="214.00" stroke="#0A2A4C" stroke-width="2.4" />
<line x1="218.40" y1="40.00" x2="313.00" y2="176.00" stroke="#C4160A" stroke-width="2.4" />
<line x1="218.40" y1="69.00" x2="304.40" y2="213.50" stroke="#12BE3A" stroke-width="2.4" />
<line x1="218.40" y1="81.00" x2="354.90" y2="214.00" stroke="#E09A00" stroke-width="2.4" />
<line x1="238.00" y1="79.40" x2="333.70" y2="194.30" stroke="#7E3E1C" stroke-width="2.4" />
<line x1="227.00" y1="121.30" x2="328.00" y2="178.00" stroke="#7A2BF0" stroke-width="2.4" />
<line x1="218.40" y1="16.50" x2="218.40" y2="214.70" stroke="#000" stroke-width="1.45" />
<line x1="218.40" y1="214.70" x2="365.00" y2="214.70" stroke="#000" stroke-width="1.45" />
<line x1="218.40" y1="16.50" x2="221.00" y2="16.50" stroke="#000" stroke-width="1.45" />
<line x1="218.40" y1="115.60" x2="221.00" y2="115.60" stroke="#000" stroke-width="1.45" />
<line x1="291.70" y1="214.70" x2="291.70" y2="212.10" stroke="#000" stroke-width="1.45" />
<line x1="365.00" y1="214.70" x2="365.00" y2="212.10" stroke="#000" stroke-width="1.45" />
<line x1="295.20" y1="27.00" x2="309.70" y2="27.00" stroke="#0A2A4C" stroke-width="2.2" />
<circle cx="317.2" cy="27.3" r="4.4" stroke="#1F5A80" stroke-width="1.15" fill="none"/>
<text x="324.02" y="31.00" font-size="11" fill="#000" stroke="#000" stroke-width="0.15" >BKA1</text>
<line x1="295.20" y1="45.30" x2="309.70" y2="45.30" stroke="#C4160A" stroke-width="2.2" />
<path d="M312.7 45.6h9M317.2 41.0v9.2" stroke="#D66040" stroke-width="1.15" fill="none"/>
<text x="324.02" y="49.30" font-size="11" fill="#000" stroke="#000" stroke-width="0.15" >BKA2</text>
<line x1="295.20" y1="60.80" x2="309.70" y2="60.80" stroke="#12BE3A" stroke-width="2.2" />
<rect x="313.5" y="57.4" width="7.4" height="7.4" stroke="#4CC465" stroke-width="1.15" fill="none"/>
<text x="324.02" y="64.80" font-size="11" fill="#000" stroke="#000" stroke-width="0.15" >BKA3</text>
<line x1="295.20" y1="75.00" x2="309.70" y2="75.00" stroke="#E09A00" stroke-width="2.2" />
<path d="M317.2 69.1L322.2 78.5L312.2 78.5Z" stroke="#E8AC25" stroke-width="1.15" fill="none" stroke-linejoin="miter"/>
<text x="324.02" y="79.00" font-size="11" fill="#000" stroke="#000" stroke-width="0.15" >BKA4</text>
<line x1="295.20" y1="91.60" x2="309.70" y2="91.60" stroke="#7A2BF0" stroke-width="2.2" />
<polygon points="317.2,87.3 318.4,90.3 321.6,90.5 319.1,92.5 319.9,95.6 317.2,93.9 314.5,95.6 315.3,92.5 312.8,90.5 316.0,90.3" stroke="#8A45EE" stroke-width="1.15" fill="none"/>
<text x="324.02" y="95.60" font-size="11" fill="#000" stroke="#000" stroke-width="0.15" >BKA5</text>
<line x1="295.20" y1="107.60" x2="309.70" y2="107.60" stroke="#7E3E1C" stroke-width="2.2" />
<path d="M312.6 107.9L321.4 102.8L321.4 113.0Z" stroke="#A2684A" stroke-width="1.15" fill="none"/>
<text x="324.02" y="111.60" font-size="11" fill="#000" stroke="#000" stroke-width="0.15" >BKA6</text>
<text x="1.90" y="16.00" font-size="15" fill="#000"  >(a)</text>
<text x="177.90" y="15.30" font-size="15" fill="#000"  textLength="20.45" lengthAdjust="spacingAndGlyphs" >(b)</text>
<text x="106.01" y="18.30" font-size="13" fill="#000" stroke="#000" stroke-width="0.15" textLength="36.92" lengthAdjust="spacingAndGlyphs" >ResTA</text>
<text x="272.73" y="18.60" font-size="13" fill="#000" stroke="#000" stroke-width="0.15" textLength="32.68" lengthAdjust="spacingAndGlyphs" >IntTA</text>
<text x="31.21" y="20.35" font-size="13.5" fill="#000" stroke="#000" stroke-width="0.15" textLength="14.29" lengthAdjust="spacingAndGlyphs">20</text>
<text x="31.44" y="118.85" font-size="13.5" fill="#000" stroke="#000" stroke-width="0.15" textLength="13.53" lengthAdjust="spacingAndGlyphs">10</text>
<text x="39.08" y="217.45" font-size="13.5" fill="#000" stroke="#000" stroke-width="0.15" textLength="5.86" lengthAdjust="spacingAndGlyphs">0</text>
<text x="201.31" y="20.25" font-size="13.5" fill="#000" stroke="#000" stroke-width="0.15" textLength="14.29" lengthAdjust="spacingAndGlyphs">20</text>
<text x="201.21" y="119.15" font-size="13.5" fill="#000" stroke="#000" stroke-width="0.15" textLength="13.97" lengthAdjust="spacingAndGlyphs">10</text>
<text x="208.63" y="217.85" font-size="13.5" fill="#000" stroke="#000" stroke-width="0.15" textLength="5.86" lengthAdjust="spacingAndGlyphs">0</text>
<text x="45.88" y="225.25" font-size="13.5" fill="#000" stroke="#000" stroke-width="0.15" textLength="5.86" lengthAdjust="spacingAndGlyphs">0</text>
<text x="115.30" y="225.85" font-size="13.5" fill="#000" stroke="#000" stroke-width="0.15" textLength="14.09" lengthAdjust="spacingAndGlyphs">15</text>
<text x="188.94" y="225.85" font-size="13.5" fill="#000" stroke="#000" stroke-width="0.15" textLength="14.15" lengthAdjust="spacingAndGlyphs">30</text>
<text x="216.16" y="225.75" font-size="13.5" fill="#000" stroke="#000" stroke-width="0.15" textLength="6.79" lengthAdjust="spacingAndGlyphs">0</text>
<text x="285.75" y="225.55" font-size="13.5" fill="#000" stroke="#000" stroke-width="0.15" textLength="13.42" lengthAdjust="spacingAndGlyphs">15</text>
<text x="357.11" y="225.55" font-size="13.5" fill="#000" stroke="#000" stroke-width="0.15" textLength="16.82" lengthAdjust="spacingAndGlyphs">30</text>
<text x="38.30" y="274.85" font-size="13.5" fill="#000" stroke="#000" stroke-width="0.15" textLength="5.86" lengthAdjust="spacingAndGlyphs">1</text>
<text x="28.65" y="365.45" font-size="13.5" fill="#000" stroke="#000" stroke-width="0.15" textLength="17.40" lengthAdjust="spacingAndGlyphs">0.5</text>
<text x="38.26" y="458.35" font-size="13.5" fill="#000" stroke="#000" stroke-width="0.15" textLength="6.79" lengthAdjust="spacingAndGlyphs">0</text>
<text x="206.95" y="274.55" font-size="13.5" fill="#000" stroke="#000" stroke-width="0.15" textLength="5.86" lengthAdjust="spacingAndGlyphs">1</text>
<text x="197.95" y="365.55" font-size="13.5" fill="#000" stroke="#000" stroke-width="0.15" textLength="17.40" lengthAdjust="spacingAndGlyphs">0.5</text>
<text x="206.49" y="457.95" font-size="13.5" fill="#000" stroke="#000" stroke-width="0.15" textLength="7.84" lengthAdjust="spacingAndGlyphs">0</text>
<text x="37.14" y="484.45" font-size="13.5" fill="#000" stroke="#000" stroke-width="0.15" textLength="7.03" lengthAdjust="spacingAndGlyphs">0</text>
<text x="24.58" y="575.55" font-size="13.5" fill="#000" stroke="#000" stroke-width="0.15" textLength="21.71" lengthAdjust="spacingAndGlyphs">-0.5</text>
<text x="31.83" y="664.35" font-size="13.5" fill="#000" stroke="#000" stroke-width="0.15" textLength="10.29" lengthAdjust="spacingAndGlyphs">-1</text>
<text x="207.47" y="484.85" font-size="13.5" fill="#000" stroke="#000" stroke-width="0.15" textLength="6.67" lengthAdjust="spacingAndGlyphs">0</text>
<text x="193.77" y="575.55" font-size="13.5" fill="#000" stroke="#000" stroke-width="0.15" textLength="22.24" lengthAdjust="spacingAndGlyphs">-0.5</text>
<text x="201.33" y="664.15" font-size="13.5" fill="#000" stroke="#000" stroke-width="0.15" textLength="10.18" lengthAdjust="spacingAndGlyphs">-1</text>
<text x="93.34" y="240.90" font-size="12" fill="#000" stroke="#000" stroke-width="0.15" >RT (%MVC)</text>
<text x="263.04" y="240.70" font-size="12" fill="#000" stroke="#000" stroke-width="0.15" >RT (%MVC)</text>
<text transform="translate(16.30,140.82) rotate(-90)" x="0" y="0" font-size="13.2" fill="#000" stroke="#000" stroke-width="0.15" textLength="66.30" lengthAdjust="spacingAndGlyphs">MFR (pps)</text>
<rect x="83.60" y="348.00" width="34.70" height="104.00" fill="#EEE6D0" stroke="#000" stroke-width="2"/>
<rect x="127.60" y="309.60" width="34.70" height="142.40" fill="#AEC17D" stroke="#000" stroke-width="2"/>
<line x1="101.00" y1="347.50" x2="101.00" y2="333.70" stroke="#000" stroke-width="2" />
<line x1="96.30" y1="333.70" x2="105.90" y2="333.70" stroke="#000" stroke-width="2" />
<line x1="145.00" y1="309.00" x2="145.00" y2="300.80" stroke="#000" stroke-width="2" />
<line x1="140.50" y1="300.80" x2="149.50" y2="300.80" stroke="#000" stroke-width="2" />
<line x1="101.20" y1="318.60" x2="144.80" y2="298.10" stroke="#0A2A4C" stroke-width="2.3" />
<line x1="101.20" y1="306.50" x2="144.80" y2="311.20" stroke="#12BE3A" stroke-width="2.3" />
<line x1="101.20" y1="357.90" x2="144.80" y2="322.90" stroke="#7A2BF0" stroke-width="2.3" />
<line x1="101.20" y1="364.30" x2="144.80" y2="337.50" stroke="#E09A00" stroke-width="2.3" />
<line x1="101.20" y1="354.00" x2="144.80" y2="292.10" stroke="#C4160A" stroke-width="2.3" />
<line x1="101.20" y1="383.70" x2="144.80" y2="298.70" stroke="#7E3E1C" stroke-width="2.3" />
<line x1="48.50" y1="268.00" x2="48.50" y2="452.30" stroke="#000" stroke-width="1.45" />
<line x1="48.50" y1="452.30" x2="197.00" y2="452.30" stroke="#000" stroke-width="1.45" />
<line x1="48.50" y1="268.60" x2="51.20" y2="268.60" stroke="#000" stroke-width="1.45" />
<line x1="48.50" y1="360.50" x2="51.20" y2="360.50" stroke="#000" stroke-width="1.45" />
<line x1="101.20" y1="278.70" x2="144.70" y2="278.70" stroke="#000" stroke-width="2.2" />
<rect x="253.00" y="313.80" width="34.20" height="138.20" fill="#EEE6D0" stroke="#000" stroke-width="2"/>
<rect x="296.80" y="310.80" width="33.80" height="141.20" fill="#AEC17D" stroke="#000" stroke-width="2"/>
<line x1="270.10" y1="313.50" x2="270.10" y2="306.60" stroke="#000" stroke-width="2" />
<line x1="265.10" y1="306.60" x2="275.10" y2="306.60" stroke="#000" stroke-width="2" />
<line x1="313.70" y1="310.50" x2="313.70" y2="304.20" stroke="#000" stroke-width="2" />
<line x1="308.30" y1="304.20" x2="318.30" y2="304.20" stroke="#000" stroke-width="2" />
<line x1="270.40" y1="311.40" x2="312.80" y2="331.40" stroke="#0A2A4C" stroke-width="2.3" />
<line x1="270.40" y1="336.20" x2="312.80" y2="289.50" stroke="#12BE3A" stroke-width="2.3" />
<line x1="270.40" y1="315.40" x2="312.80" y2="304.20" stroke="#7A2BF0" stroke-width="2.3" />
<line x1="270.40" y1="322.10" x2="312.80" y2="309.80" stroke="#E09A00" stroke-width="2.3" />
<line x1="270.40" y1="305.80" x2="312.80" y2="313.50" stroke="#C4160A" stroke-width="2.3" />
<line x1="270.40" y1="291.70" x2="312.80" y2="315.10" stroke="#7E3E1C" stroke-width="2.3" />
<line x1="218.40" y1="268.80" x2="218.40" y2="452.30" stroke="#000" stroke-width="1.45" />
<line x1="218.40" y1="452.30" x2="366.20" y2="452.30" stroke="#000" stroke-width="1.45" />
<line x1="218.40" y1="268.80" x2="221.10" y2="268.80" stroke="#000" stroke-width="1.45" />
<line x1="218.40" y1="360.70" x2="221.10" y2="360.70" stroke="#000" stroke-width="1.45" />
<rect x="83.60" y="479.00" width="34.70" height="61.50" fill="#EEE6D0" stroke="#000" stroke-width="2"/>
<rect x="127.60" y="479.00" width="34.70" height="106.50" fill="#AEC17D" stroke="#000" stroke-width="2"/>
<line x1="101.00" y1="540.50" x2="101.00" y2="553.00" stroke="#000" stroke-width="2" />
<line x1="96.40" y1="553.00" x2="105.90" y2="553.00" stroke="#000" stroke-width="2" />
<line x1="145.00" y1="585.50" x2="145.00" y2="595.10" stroke="#000" stroke-width="2" />
<line x1="140.40" y1="595.10" x2="149.80" y2="595.10" stroke="#000" stroke-width="2" />
<line x1="100.80" y1="564.30" x2="144.80" y2="592.20" stroke="#0A2A4C" stroke-width="2.3" />
<line x1="100.80" y1="517.50" x2="144.80" y2="627.10" stroke="#12BE3A" stroke-width="2.3" />
<line x1="100.80" y1="513.10" x2="144.80" y2="532.20" stroke="#7A2BF0" stroke-width="2.3" />
<line x1="100.80" y1="586.10" x2="144.80" y2="575.80" stroke="#E09A00" stroke-width="2.3" />
<line x1="100.80" y1="560.50" x2="144.80" y2="608.00" stroke="#C4160A" stroke-width="2.3" />
<line x1="100.80" y1="503.70" x2="144.80" y2="581.10" stroke="#7E3E1C" stroke-width="2.3" />
<line x1="48.50" y1="478.90" x2="48.50" y2="664.20" stroke="#000" stroke-width="1.45" />
<line x1="48.50" y1="478.90" x2="197.00" y2="478.90" stroke="#000" stroke-width="1.45" />
<line x1="48.50" y1="571.50" x2="51.20" y2="571.50" stroke="#000" stroke-width="1.45" />
<line x1="48.50" y1="663.60" x2="51.20" y2="663.60" stroke="#000" stroke-width="1.45" />
<line x1="104.60" y1="649.00" x2="147.50" y2="649.00" stroke="#000" stroke-width="2.2" />
<rect x="253.00" y="479.00" width="34.50" height="57.00" fill="#EEE6D0" stroke="#000" stroke-width="2"/>
<rect x="296.50" y="479.00" width="34.10" height="61.50" fill="#AEC17D" stroke="#000" stroke-width="2"/>
<line x1="270.10" y1="536.00" x2="270.10" y2="541.80" stroke="#000" stroke-width="2" />
<line x1="265.20" y1="541.80" x2="275.00" y2="541.80" stroke="#000" stroke-width="2" />
<line x1="313.40" y1="540.50" x2="313.40" y2="550.80" stroke="#000" stroke-width="2" />
<line x1="308.30" y1="550.80" x2="318.50" y2="550.80" stroke="#000" stroke-width="2" />
<line x1="270.10" y1="531.90" x2="313.30" y2="507.30" stroke="#0A2A4C" stroke-width="2.3" />
<line x1="270.10" y1="540.00" x2="313.30" y2="557.30" stroke="#12BE3A" stroke-width="2.3" />
<line x1="270.10" y1="514.00" x2="313.30" y2="512.70" stroke="#7A2BF0" stroke-width="2.3" />
<line x1="270.10" y1="539.20" x2="313.30" y2="600.00" stroke="#E09A00" stroke-width="2.3" />
<line x1="270.10" y1="560.50" x2="313.30" y2="535.50" stroke="#C4160A" stroke-width="2.3" />
<line x1="270.10" y1="531.50" x2="313.30" y2="531.50" stroke="#7E3E1C" stroke-width="2.3" />
<line x1="218.20" y1="478.90" x2="218.20" y2="664.00" stroke="#000" stroke-width="1.45" />
<line x1="218.20" y1="478.90" x2="366.20" y2="478.90" stroke="#000" stroke-width="1.45" />
<line x1="218.20" y1="571.90" x2="220.90" y2="571.90" stroke="#000" stroke-width="1.45" />
<line x1="218.20" y1="663.40" x2="220.90" y2="663.40" stroke="#000" stroke-width="1.45" />
<rect x="226.3" y="616.0" width="11.4" height="11.4" fill="#EEE6D0" stroke="#000" stroke-width="1.8"/>
<rect x="226.3" y="647.7" width="11.4" height="11.2" fill="#AEC17D" stroke="#000" stroke-width="1.8"/>
<text x="246.64" y="627.30" font-size="14.5" fill="#000"  >Residual</text>
<text x="246.94" y="658.40" font-size="14.5" fill="#000"  textLength="36.95" lengthAdjust="spacingAndGlyphs" >Intact</text>
<text x="1.90" y="266.00" font-size="15" fill="#000"  >(c)</text>
<text x="181.65" y="265.00" font-size="15" fill="#000"  textLength="21.33" lengthAdjust="spacingAndGlyphs" >(d)</text>
<text x="1.90" y="471.20" font-size="15" fill="#000"  >(e)</text>
<text x="187.61" y="471.20" font-size="15" fill="#000"  textLength="18.65" lengthAdjust="spacingAndGlyphs" >(f)</text>
<text x="113.25" y="261.90" font-size="13" fill="#000" stroke="#000" stroke-width="0.15" textLength="16.80" lengthAdjust="spacingAndGlyphs" >TA</text>
<text x="280.45" y="262.00" font-size="13" fill="#000" stroke="#000" stroke-width="0.15" >GA</text>
<text x="116.80" y="280.40" font-size="13" fill="#000" stroke="#000" stroke-width="0.15" textLength="11.67" lengthAdjust="spacingAndGlyphs" >**</text>
<text x="116.20" y="664.20" font-size="13.5" fill="#000" stroke="#000" stroke-width="0.15" textLength="17.56" lengthAdjust="spacingAndGlyphs" >***</text>
<text transform="translate(19.20,366.27) rotate(-90)" x="0" y="0" font-size="13.5" fill="#000" stroke="#000" stroke-width="0.15" textLength="6.92" lengthAdjust="spacingAndGlyphs">R</text>
<text transform="translate(15.60,358.40) rotate(-90)" x="0" y="0" font-size="8.5" fill="#000" stroke="#000" stroke-width="0.15" textLength="3.30" lengthAdjust="spacingAndGlyphs">2</text>
<text transform="translate(16.30,630.60) rotate(-90)" x="0" y="0" font-size="13.5" fill="#000" stroke="#000" stroke-width="0.15" textLength="117.62" lengthAdjust="spacingAndGlyphs">Slope (pps/% MVC)</text>
</svg>
</body></html>
